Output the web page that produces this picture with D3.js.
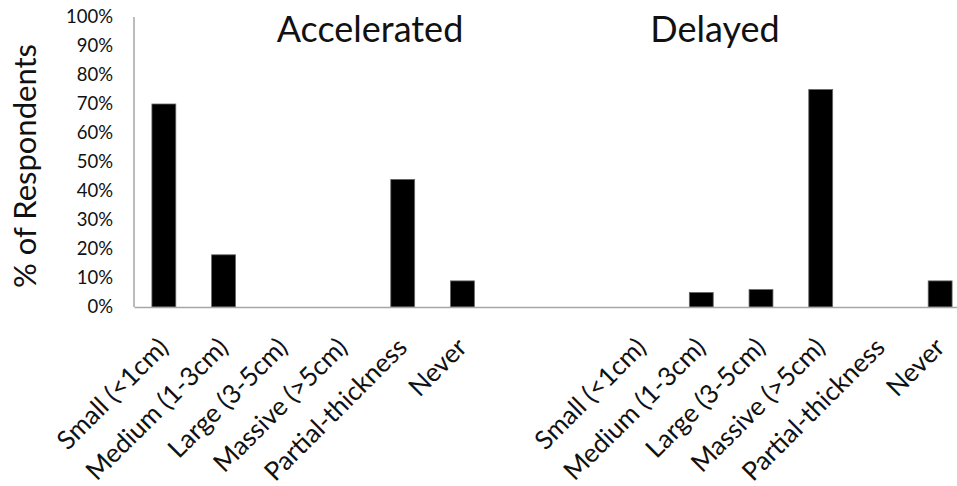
<!DOCTYPE html>
<html><head><meta charset="utf-8">
<script src="https://cdn.jsdelivr.net/npm/d3@7"></script>
<style>html,body{margin:0;padding:0;background:#fff;}svg{display:block;}</style>
</head><body>
<svg id="chart" width="957" height="486"></svg>
<script>
const categories = ["Small (<1cm)", "Medium (1-3cm)", "Large (3-5cm)", "Massive (>5cm)", "Partial-thickness", "Never"];
const groups = ["Accelerated", "Delayed"];
const accelerated = [70, 18, 0, 0, 44, 9];
const delayed = [0, 5, 6, 75, 0, 9];
const yTicks = [0, 10, 20, 30, 40, 50, 60, 70, 80, 90, 100];
const yLabel = "% of Respondents";

const svg = d3.select("#chart");
const font = "Lato, 'Open Sans', sans-serif";
const textColor = "#111";

// slot domain: 6 accelerated, 2 gaps, 6 delayed
const slots = [];
categories.forEach((c, i) => slots.push("A" + i));
slots.push("gap1", "gap2");
categories.forEach((c, i) => slots.push("D" + i));

const x = d3.scaleBand().domain(slots).range([134, 970]).paddingInner(0.6).paddingOuter(0.3);
const y = d3.scaleLinear().domain([0, 100]).range([307, 17]);

const bars = [];
categories.forEach((c, i) => bars.push({key: "A" + i, cat: c, v: accelerated[i]}));
categories.forEach((c, i) => bars.push({key: "D" + i, cat: c, v: delayed[i]}));

// bars
svg.append("g").selectAll("rect").data(bars.filter(d => d.v > 0)).join("rect")
  .attr("x", d => x(d.key))
  .attr("y", d => y(d.v))
  .attr("width", x.bandwidth())
  .attr("height", d => y(0) - y(d.v))
  .attr("fill", "#000")
  .attr("stroke", "#666")
  .attr("stroke-width", 0.8);

// y axis
const yAxis = d3.axisLeft(y).tickValues(yTicks).tickFormat(d => d + "%").tickSize(0).tickPadding(21);
const gy = svg.append("g").attr("transform", "translate(134,0)").call(yAxis);
gy.select(".domain").attr("stroke", "#a6a6a6").attr("stroke-width", 1.5).attr("d", "M0," + y(100) + "V" + y(0));
gy.selectAll("text").attr("font-family", font).attr("font-size", 18.5).attr("fill", textColor);

// x axis
const xAxis = d3.axisBottom(x).tickSize(0).tickFormat(d => {
  const b = bars.find(e => e.key === d);
  return b ? b.cat : "";
});
const gx = svg.append("g").attr("transform", "translate(0," + y(0) + ")").call(xAxis);
gx.select(".domain").attr("stroke", "#a6a6a6").attr("stroke-width", 1.5);
gx.selectAll(".tick text")
  .attr("font-family", font).attr("font-size", 26).attr("fill", textColor)
  .attr("text-anchor", "end")
  .attr("dy", null).attr("y", 0)
  .attr("transform", "translate(6,42) rotate(-45)");

// group titles
svg.append("g").selectAll("text").data(groups).join("text")
  .attr("x", (d, i) => i === 0 ? 370 : 715)
  .attr("y", 42)
  .attr("text-anchor", "middle")
  .attr("font-family", font).attr("font-size", 36).attr("fill", textColor)
  .text(d => d);

// y label
svg.append("text")
  .attr("transform", "translate(36,166) rotate(-90)")
  .attr("text-anchor", "middle")
  .attr("font-family", font).attr("font-size", 31).attr("fill", textColor)
  .text(yLabel);
</script>
</body></html>
